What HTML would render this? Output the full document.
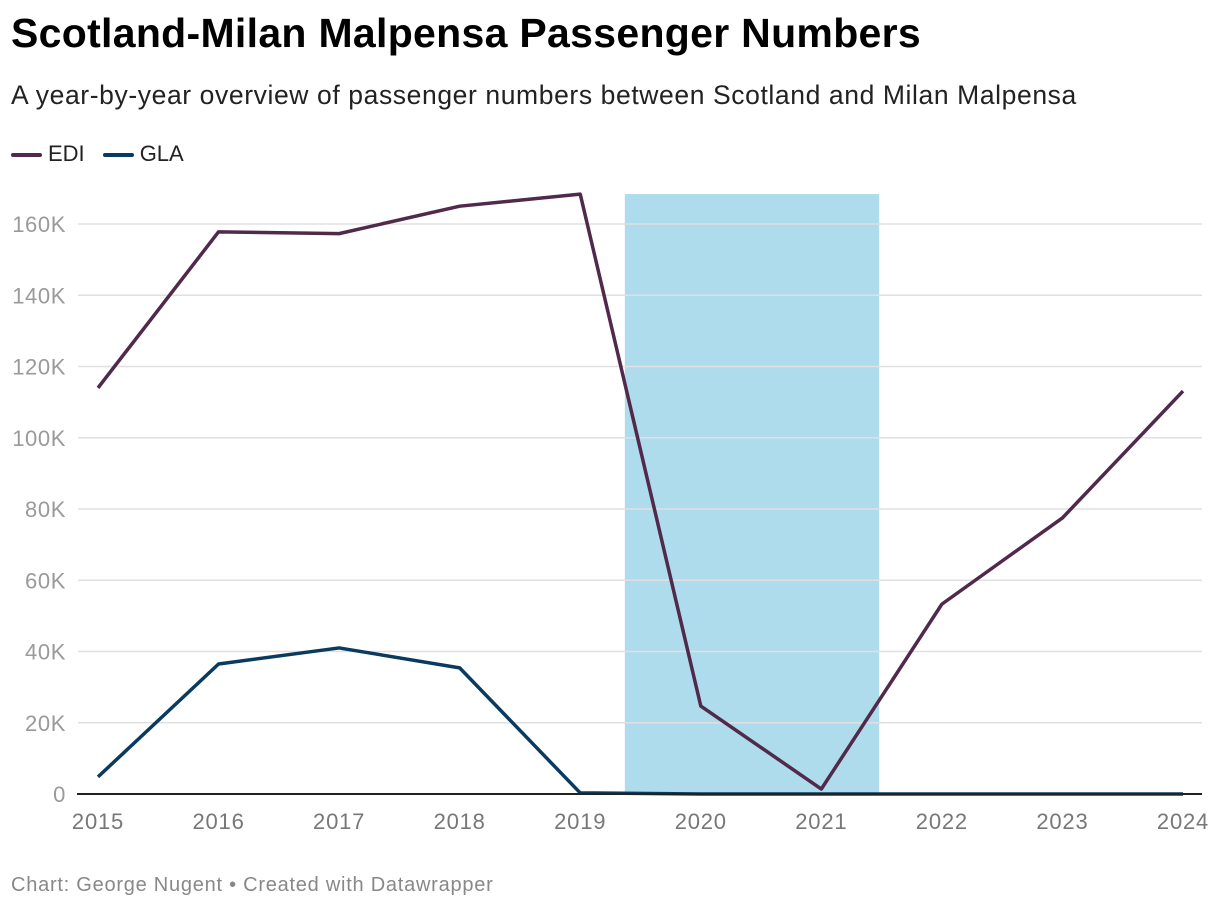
<!DOCTYPE html>
<html><head><meta charset="utf-8"><style>
body{margin:0;width:1220px;height:910px;background:#fff;font-family:"Liberation Sans",sans-serif;overflow:hidden}
#title{position:absolute;left:11px;top:10px;font-size:41px;font-weight:bold;color:#000;letter-spacing:0.3px}
#sub{position:absolute;left:11px;top:80px;font-size:26.5px;color:#222;letter-spacing:0.6px}
#legend{position:absolute;left:11px;top:141px;font-size:22px;color:#222}
.li{display:inline-block;margin-right:18px}
.sw{display:inline-block;width:31px;height:4px;border-radius:2px;vertical-align:middle;margin-right:6px}
#foot{position:absolute;left:11px;top:874px;font-size:20px;color:#888;letter-spacing:0.75px}
svg{position:absolute;left:0;top:0}
</style></head><body>
<div id="title">Scotland-Milan Malpensa Passenger Numbers</div>
<div id="sub">A year-by-year overview of passenger numbers between Scotland and Milan Malpensa</div>
<div id="legend"><span class="li"><span class="sw" style="background:#51294b"></span>EDI</span><span class="li"><span class="sw" style="background:#0b3a5f"></span>GLA</span></div>
<svg id="chart" width="1220" height="910"></svg>
<div id="foot">Chart: George Nugent • Created with Datawrapper</div>
<script>
const years=[2015,2016,2017,2018,2019,2020,2021,2022,2023,2024];
const edi=[114000,157800,157300,165000,168400,24700,1400,53300,77500,113100];
const gla=[4800,36500,41000,35400,300,0,0,0,0,0];
const yTicks=[0,20000,40000,60000,80000,100000,120000,140000,160000];
const yTickLabels=["0","20K","40K","60K","80K","100K","120K","140K","160K"];
const band=[2019.37,2021.48];
const NS="http://www.w3.org/2000/svg";
const svg=document.getElementById('chart');
const x=v=>98+(v-2015)*(1183-98)/9;
const y=v=>794-v*(794-224)/160000;
function mk(t,a){const e=document.createElementNS(NS,t);for(const k in a)e.setAttribute(k,a[k]);svg.appendChild(e);return e;}
const maxV=Math.max(...edi);
const b=mk('rect',{x:x(band[0]),y:y(maxV),width:x(band[1])-x(band[0]),height:y(0)-y(maxV),fill:'#aedcec'});


yTicks.forEach((t,i)=>{
 if(t>0){const g=mk('line',{x1:78,x2:1202,y1:y(t),y2:y(t),stroke:'#e0e0e0','stroke-width':1.5});
 
 }
 const l=mk('text',{x:66,y:y(t)+8,'text-anchor':'end','font-size':22,'letter-spacing':0.6,fill:'#9a9a9a','font-family':'Liberation Sans, sans-serif'});
 l.textContent=yTickLabels[i];
 
 
});
years.forEach(v=>{
 const l=mk('text',{x:x(v),y:829,'text-anchor':'middle','font-size':22,'letter-spacing':0.8,fill:'#777','font-family':'Liberation Sans, sans-serif'});
 l.textContent=v;
 
 
});
function line(d,c,n){
 const p=mk('path',{d:d.map((v,i)=>(i?'L':'M')+x(years[i])+','+y(v)).join(''),fill:'none',stroke:c,'stroke-width':3.5,'stroke-linejoin':'round'});
 
 
}
line(gla,'#0b3a5f','line-gla');
line(edi,'#51294b','line-edi');
const ax=mk('line',{x1:77,x2:1202,y1:y(0),y2:y(0),stroke:'#222','stroke-width':2});


</script>
</body></html>
